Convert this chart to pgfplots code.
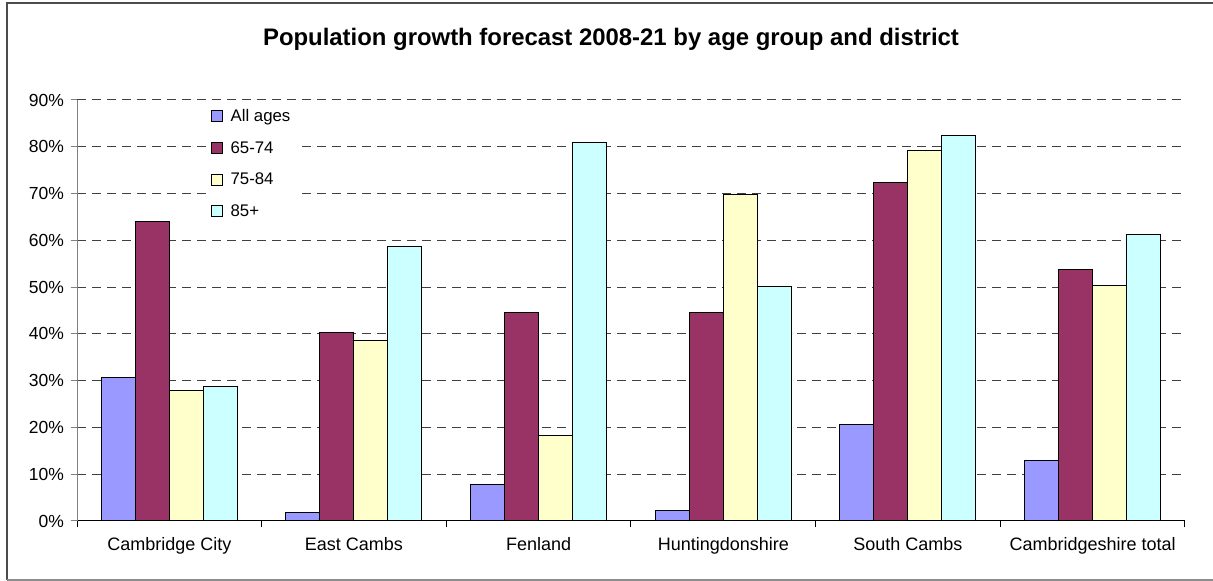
\documentclass[border=0pt]{standalone}
\usepackage{pgfplots}
\pgfplotsset{compat=1.18}
\usepackage{fontspec}
\setmainfont{Liberation Sans}

\definecolor{cAll}{HTML}{9999FF}
\definecolor{cSix}{HTML}{993366}
\definecolor{cSev}{HTML}{FFFFCC}
\definecolor{cEig}{HTML}{CCFFFF}

\begin{document}
\begin{tikzpicture}[x=1pt,y=1pt]
\useasboundingbox (0,0) rectangle (1213,581);
% outer chart frame (right edge runs off the picture)
\draw[black!70, line width=1.3pt] (1225,578) -- (7,578) -- (7,1);
\draw[black!45, line width=1.3pt] (7,1) -- (1225,1);

\node[anchor=base, font=\fontsize{23.9}{26}\selectfont\bfseries] at (611,535)
  {Population growth forecast 2008-21 by age group and district};

\begin{axis}[
  at={(77pt,60pt)}, anchor=south west,
  scale only axis, width=1108pt, height=421pt,
  ybar=0pt, bar width=34pt,
  xmin=-0.5, xmax=5.5,
  ymin=0, ymax=90,
  xtick={-0.5,0.5,...,5.5},
  x tick label as interval,
  xticklabels={Cambridge City, East Cambs, Fenland, Huntingdonshire, South Cambs, Cambridgeshire total},
  ytick={0,10,...,90},
  yticklabels={0\%,10\%,20\%,30\%,40\%,50\%,60\%,70\%,80\%,90\%},
  axis x line*=bottom, axis y line*=left,
  x axis line style={-, black, line width=1pt},
  y axis line style={-, black!50, line width=1pt},
  tick align=outside, major tick length=6.5pt,
  x tick style={black, line width=1pt},
  y tick style={black!50, line width=1pt},
  ymajorgrids=true,
  major grid style={dash pattern=on 9pt off 6pt, black!75, line width=1pt},
  xticklabel style={font=\fontsize{18}{20}\selectfont, yshift=-6pt},
  yticklabel style={font=\fontsize{17.5}{20}\selectfont, xshift=-3pt},
  every axis plot/.append style={draw=black, line width=1pt,
    legend image code/.code={\draw[##1, draw=black, line width=0.9pt] (0pt,-5.5pt) rectangle (11pt,5.5pt);}},
  legend style={at={(0.116,1)}, anchor=north west, draw=none, fill=white,
    font=\fontsize{16.8}{19}\selectfont, row sep=14.5pt,
    inner xsep=5pt, inner ysep=7pt,
    /tikz/every odd column/.append style={column sep=6pt}},
  legend cell align=left,
]

\addplot[fill=cAll] coordinates {(0,30.6) (1,1.9) (2,7.9) (3,2.2) (4,20.7) (5,13.0)};
\addplot[fill=cSix] coordinates {(0,64.1) (1,40.4) (2,44.6) (3,44.6) (4,72.4) (5,53.8)};
\addplot[fill=cSev] coordinates {(0,28.0) (1,38.5) (2,18.2) (3,69.9) (4,79.1) (5,50.3)};
\addplot[fill=cEig] coordinates {(0,28.7) (1,58.6) (2,81.0) (3,50.1) (4,82.5) (5,61.2)};

\legend{All ages, 65-74, 75-84, 85+}
\end{axis}
\end{tikzpicture}
\end{document}
